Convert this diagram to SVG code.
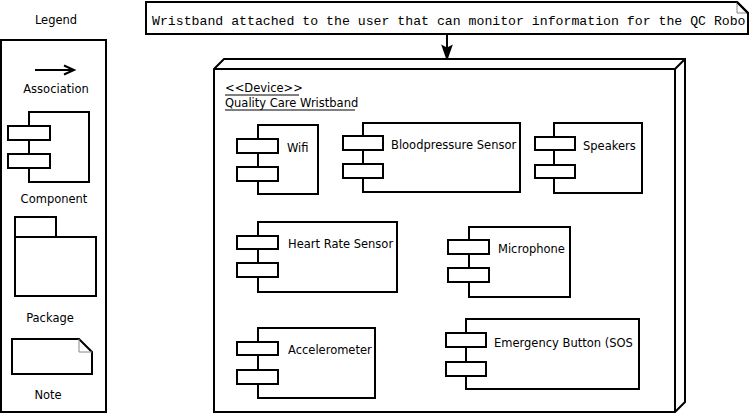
<svg xmlns="http://www.w3.org/2000/svg" width="750" height="413" viewBox="0 0 750 413">
<style>
.s{fill:#fff;stroke:#000;stroke-width:2}
.n{fill:none;stroke:#000;stroke-width:2}
.f{fill:none;stroke:#888;stroke-width:1}
.t{font-family:"DejaVu Sans",Verdana,sans-serif;font-size:11.5px;fill:#000}
.c{text-anchor:middle}
.m{font-family:"Liberation Mono","Courier New",monospace;font-size:13.2px;fill:#000}
</style>
<rect width="750" height="413" fill="#fff"/>

<g id="legend">
<text class="t c" x="56" y="24">Legend</text>
<rect class="s" x="1" y="40" width="105" height="372"/>
<line class="n" x1="35" y1="70" x2="74" y2="70"/>
<polyline class="n" points="64,65.5 74,70 64,74.5"/>
<text class="t c" x="56" y="93">Association</text>
<rect class="s" x="29" y="112" width="60" height="70"/>
<rect class="s" x="8" y="126" width="42" height="14"/>
<rect class="s" x="8" y="154" width="42" height="14"/>
<text class="t c" x="54" y="203">Component</text>
<rect class="s" x="15" y="217" width="41" height="20"/>
<rect class="s" x="15" y="237" width="81" height="59"/>
<text class="t c" x="50" y="322">Package</text>
<path class="s" d="M12 339 H79 L92 352 V374 H12 Z"/>
<path class="f" d="M79 339 V352 H92"/>
<text class="t c" x="48" y="399">Note</text>
</g>

<g id="note">
<path class="s" d="M146 2 H737 L748 13 V34 H146 Z"/>
<text class="m" x="152" y="25">Wristband attached to the user that can monitor information for the QC Robo</text>
<path class="f" d="M737 2 V13 H748"/>
<path class="n" d="M737 2 L748 13 V34"/>
</g>

<g id="connectors">
<line class="n" x1="447" y1="34" x2="447" y2="50"/>
<path d="M447 59 L442.5 46 L447 48.5 L451.5 46 Z" fill="#000" stroke="#000" stroke-width="1.5"/>
</g>

<g id="device">
<path class="s" d="M214 69 L224 59 H685 V402 L675 412 H214 Z"/>
<path class="n" d="M214 69 H675 V412 M675 69 L685 59"/>
<text class="t" x="225" y="92">&lt;&lt;Device&gt;&gt;</text>
<line x1="225" y1="95" x2="299" y2="95" stroke="#000" stroke-width="1"/>
<text class="t" x="225" y="107">Quality Care Wristband</text>
<line x1="225" y1="110" x2="355" y2="110" stroke="#000" stroke-width="1"/>
</g>

<g id="wifi">
<rect class="s" x="258" y="125" width="60" height="69"/>
<rect class="s" x="237" y="139" width="41" height="14"/>
<rect class="s" x="237" y="167" width="41" height="14"/>
<text class="t" x="287" y="152">Wifi</text>
</g>

<g id="bloodpressure">
<rect class="s" x="363" y="123" width="157" height="69"/>
<rect class="s" x="343" y="136" width="40" height="14"/>
<rect class="s" x="343" y="164" width="40" height="14"/>
<text class="t" x="391" y="149">Bloodpressure Sensor</text>
</g>

<g id="speakers">
<rect class="s" x="554" y="123" width="88" height="70"/>
<rect class="s" x="535" y="137" width="40" height="13"/>
<rect class="s" x="535" y="165" width="40" height="13"/>
<text class="t" x="583" y="150">Speakers</text>
</g>

<g id="heartrate">
<rect class="s" x="258" y="222" width="139" height="70"/>
<rect class="s" x="237" y="236" width="41" height="13"/>
<rect class="s" x="237" y="263" width="41" height="14"/>
<text class="t" x="288" y="248">Heart Rate Sensor</text>
</g>

<g id="microphone">
<rect class="s" x="469" y="227" width="101" height="70"/>
<rect class="s" x="448" y="240" width="41" height="14"/>
<rect class="s" x="448" y="268" width="41" height="14"/>
<text class="t" x="498" y="253">Microphone</text>
</g>

<g id="accelerometer">
<rect class="s" x="258" y="328" width="117" height="70"/>
<rect class="s" x="237" y="342" width="41" height="13"/>
<rect class="s" x="237" y="370" width="41" height="14"/>
<text class="t" x="288" y="354">Accelerometer</text>
</g>

<g id="emergency">
<rect class="s" x="466" y="319" width="173" height="70"/>
<rect class="s" x="446" y="333" width="40" height="14"/>
<rect class="s" x="446" y="362" width="40" height="14"/>
<text class="t" x="494" y="347">Emergency Button (SOS</text>
</g>
</svg>
